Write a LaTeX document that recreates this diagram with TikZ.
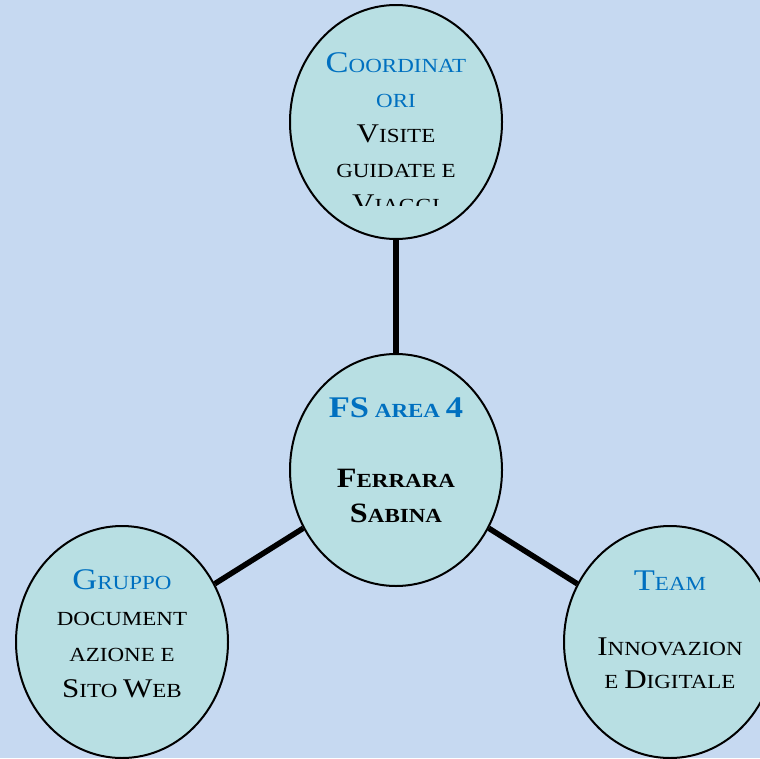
\documentclass[tikz,border=0pt]{standalone}
\usepackage{fontspec}
\setmainfont{Liberation Serif}[FakeStretch=1.15]
\usetikzlibrary{shapes.geometric}
\definecolor{sfondo}{HTML}{C6D9F1}
\definecolor{cerchio}{HTML}{B8DFE3}
\definecolor{blu}{HTML}{0070C0}
% maiuscole finte (small caps)
\newcommand\maiuB[1]{{\fontsize{30}{35}\selectfont #1}}
\newcommand\maiuN[1]{{\fontsize{27}{35}\selectfont #1}}
\newcommand\maiuF[1]{{\fontsize{28}{35}\selectfont #1}}
\tikzset{
  bolla/.style={ellipse, draw=black, line width=2pt, fill=cerchio,
    minimum width=212pt, minimum height=232pt, inner sep=0pt},
  testo/.style={align=center, anchor=base, inner sep=0pt,
    font=\fontsize{20}{35}\selectfont},
  ramo/.style={line width=5.5pt}
}

\begin{document}
\begin{tikzpicture}[x=1pt,y=-1pt]
    \fill [sfondo] (0,0) rectangle (760,758);
    \useasboundingbox (0,0) rectangle (760,758);
    \node [bolla] (fs) at (396,470) {};
    \node [bolla, minimum height=234pt] (coord) at (396,122) {};
    \node [bolla] (gruppo) at (122,642) {};
    \node [bolla] (team) at (670,642) {};
    \draw [ramo] (fs) -- (coord);
    \draw [ramo] (fs) -- (gruppo);
    \draw [ramo] (fs) -- (team);
    % testo tagliato in basso (base = ultima riga)
    \begin{scope}
      \clip (300,30) rectangle (490,205);
      \node [testo] (coordtxt) at (396,212) {\textcolor{blu}{\maiuB{C}OORDINAT}\\
        \textcolor{blu}{ORI}\\\maiuN{V}ISITE\\GUIDATE E\\\maiuN{V}IAGGI};
    \end{scope}
    \node [testo, font=\fontsize{20}{35}\selectfont\bfseries] (fstxt) at (396,522)
      {\textcolor{blu}{\maiuB{FS} AREA \maiuB{4}}\\[35pt]\maiuF{F}ERRARA\\\maiuF{S}ABINA};
    \node [testo, font=\fontsize{20}{35.7}\selectfont] (gruppotxt) at (122,697)
      {\textcolor{blu}{\maiuB{G}RUPPO}\\DOCUMENT\\AZIONE E\\\maiuN{S}ITO \maiuN{W}EB};
    \node [testo, font=\fontsize{20}{32.5}\selectfont] (teamtxt) at (670,688)
      {\textcolor{blu}{\maiuB{T}EAM}\\[33pt]\maiuN{I}NNOVAZION\\E \maiuN{D}IGITALE};
\end{tikzpicture}
\end{document}
